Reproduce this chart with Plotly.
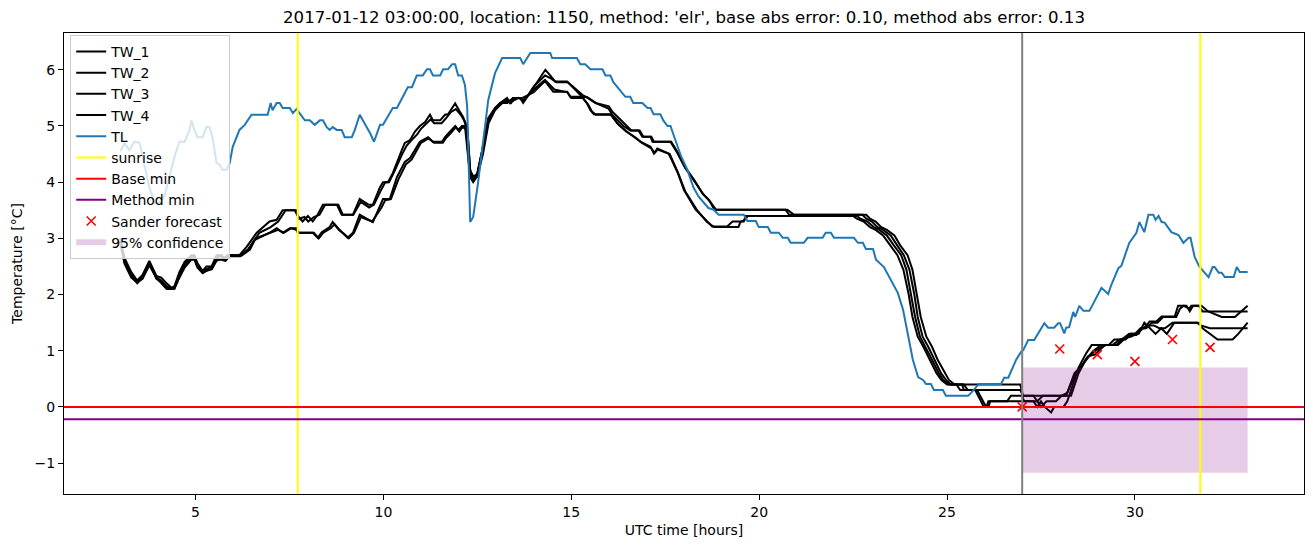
import plotly.graph_objects as go

# ---------------- data ----------------
tl_points = [(3.0, 4.55), (3.11, 4.69), (3.24, 4.57), (3.37, 4.72), (3.51, 4.70), (3.77, 3.91), (3.91, 3.63), (4.04, 3.63),
             (4.17, 3.74), (4.31, 4.09), (4.44, 4.45), (4.57, 4.72), (4.71, 4.72), (4.84, 4.93), (4.89, 5.1), (4.97, 4.93),
             (5.05, 4.8), (5.19, 4.8), (5.29, 4.98), (5.37, 4.98), (5.45, 4.8), (5.56, 4.34), (5.64, 4.31), (5.72, 4.22),
             (5.83, 4.22), (5.91, 4.34), (5.99, 4.63), (6.17, 4.93), (6.31, 5.02), (6.49, 5.2), (6.92, 5.2), (7.0, 5.41),
             (7.05, 5.28), (7.16, 5.41), (7.24, 5.41), (7.32, 5.32), (7.51, 5.32), (7.59, 5.23), (7.69, 5.3), (7.91, 5.1),
             (8.04, 5.1), (8.17, 5.02), (8.31, 5.1), (8.39, 5.1), (8.49, 4.98), (8.57, 4.93), (8.65, 4.98), (8.76, 4.93),
             (8.89, 4.93), (8.97, 4.8), (9.16, 4.8), (9.24, 4.93), (9.37, 5.2), (9.64, 4.88), (9.75, 4.72), (9.91, 5.02),
             (9.99, 5.02), (10.25, 5.32), (10.36, 5.32), (10.65, 5.69), (10.76, 5.69), (10.89, 5.9), (11.05, 5.9),
             (11.16, 6.01), (11.24, 6.01), (11.32, 5.9), (11.51, 5.9), (11.59, 6.01), (11.72, 6.01), (11.83, 6.1),
             (11.91, 6.1), (11.99, 5.9), (12.09, 5.9), (12.17, 5.73), (12.23, 5.34), (12.31, 3.29), (12.39, 3.38),
             (12.52, 3.99), (12.65, 4.75), (12.79, 5.46), (12.97, 5.94), (13.16, 6.21), (13.64, 6.21), (13.72, 6.1),
             (13.91, 6.3), (14.44, 6.3), (14.49, 6.21), (15.15, 6.21), (15.24, 6.1), (15.37, 6.1), (15.51, 6.01),
             (15.83, 6.01), (15.91, 5.9), (16.04, 5.9), (16.12, 5.78), (16.23, 5.69), (16.36, 5.6), (16.44, 5.52),
             (16.57, 5.52), (16.65, 5.41), (16.89, 5.41), (17.03, 5.32), (17.11, 5.32), (17.19, 5.21), (17.37, 5.21),
             (17.45, 5.1), (17.56, 5.0), (17.64, 5.0), (17.77, 4.75), (17.91, 4.48), (18.09, 4.22), (18.25, 3.91),
             (18.39, 3.74), (18.52, 3.63), (18.65, 3.54), (18.79, 3.51), (18.92, 3.42), (19.59, 3.42), (19.69, 3.31),
             (19.91, 3.31), (19.99, 3.2), (20.23, 3.2), (20.31, 3.1), (20.52, 3.1), (20.63, 3.01), (20.76, 3.01),
             (20.84, 2.92), (21.19, 2.92), (21.29, 3.01), (21.69, 3.01), (21.77, 3.1), (21.91, 3.1), (21.99, 3.01),
             (22.52, 3.01), (22.63, 2.92), (22.76, 2.92), (22.84, 2.81), (23.03, 2.81), (23.11, 2.62), (23.32, 2.49),
             (23.51, 2.26), (23.69, 2.03), (23.83, 1.73), (23.96, 1.25), (24.09, 0.84), (24.23, 0.53), (24.36, 0.48),
             (24.44, 0.41), (24.57, 0.41), (24.65, 0.3), (24.89, 0.3), (24.97, 0.2), (25.56, 0.2), (25.64, 0.25),
             (25.77, 0.34), (25.85, 0.41), (26.44, 0.41), (26.52, 0.52), (26.63, 0.52), (26.76, 0.72), (26.84, 0.84),
             (26.97, 0.98), (27.03, 1.01), (27.16, 1.19), (27.32, 1.19), (27.59, 1.49), (27.69, 1.41), (27.85, 1.41),
             (27.96, 1.49), (28.01, 1.49), (28.12, 1.31), (28.17, 1.41), (28.25, 1.42), (28.36, 1.69), (28.41, 1.6),
             (28.52, 1.8), (28.63, 1.71), (28.79, 1.71), (29.11, 2.12), (29.29, 2.01), (29.37, 2.17), (29.56, 2.47),
             (29.64, 2.51), (29.85, 2.92), (30.04, 3.1), (30.12, 3.29), (30.25, 3.11), (30.36, 3.42), (30.49, 3.42),
             (30.55, 3.33), (30.63, 3.4), (30.71, 3.29), (30.79, 3.28), (30.97, 3.11), (31.16, 3.06), (31.29, 2.92),
             (31.43, 3.01), (31.48, 3.01), (31.59, 2.67), (31.72, 2.49), (31.85, 2.4), (31.96, 2.31), (32.07, 2.49),
             (32.12, 2.49), (32.23, 2.39), (32.31, 2.39), (32.39, 2.31), (32.63, 2.31), (32.71, 2.49), (32.79, 2.4),
             (33.0, 2.4)]

tw1_points = [(3.0, 3.0), (3.11, 2.65), (3.29, 2.4), (3.45, 2.25), (3.59, 2.35), (3.77, 2.6), (3.96, 2.33), (4.09, 2.3),
              (4.23, 2.2), (4.36, 2.12), (4.44, 2.15), (4.57, 2.4), (4.71, 2.58), (4.89, 2.7), (4.97, 2.7), (5.05, 2.56),
              (5.19, 2.42), (5.29, 2.5), (5.43, 2.5), (5.56, 2.7), (5.69, 2.7), (5.77, 2.65), (5.85, 2.7), (6.17, 2.7),
              (6.36, 2.85), (6.63, 3.1), (6.97, 3.3), (7.16, 3.33), (7.32, 3.5), (7.64, 3.5), (7.72, 3.4), (7.85, 3.3),
              (7.99, 3.4), (8.12, 3.3), (8.25, 3.42), (8.39, 3.6), (8.76, 3.6), (8.89, 3.42), (9.19, 3.42), (9.37, 3.7),
              (9.6, 3.6), (9.72, 3.6), (9.91, 3.91), (9.99, 4.0), (10.12, 4.0), (10.25, 4.16), (10.49, 4.57), (10.57, 4.7),
              (10.71, 4.75), (10.84, 4.9), (10.97, 5.0), (11.11, 5.07), (11.24, 5.2), (11.32, 5.1), (11.51, 5.1),
              (11.64, 5.2), (11.72, 5.21), (11.91, 5.4), (12.04, 5.25), (12.12, 5.16), (12.23, 4.98), (12.31, 4.22),
              (12.39, 4.07), (12.49, 4.13), (12.63, 4.57), (12.79, 5.14), (12.97, 5.32), (13.11, 5.41), (13.29, 5.5),
              (13.37, 5.41), (13.45, 5.5), (13.64, 5.5), (13.72, 5.41), (13.99, 5.69), (14.31, 6.0), (14.44, 5.9),
              (14.57, 5.79), (14.89, 5.79), (15.06, 5.67), (15.29, 5.52), (15.42, 5.51), (15.64, 5.41), (15.99, 5.31),
              (16.09, 5.2), (16.22, 5.11), (16.39, 5.0), (16.57, 4.92), (16.79, 4.92), (16.89, 4.81), (17.11, 4.81),
              (17.16, 4.72), (17.64, 4.72), (17.83, 4.51), (18.01, 4.28), (18.27, 4.04), (18.49, 3.8), (18.67, 3.68),
              (18.81, 3.51), (20.75, 3.51), (20.93, 3.42), (22.85, 3.42), (22.95, 3.35), (23.1, 3.3), (23.25, 3.2),
              (23.4, 3.15), (23.6, 3.05), (23.75, 2.88), (23.95, 2.7), (24.08, 2.44), (24.2, 2.0), (24.3, 1.6),
              (24.45, 1.25), (24.6, 1.07), (24.75, 0.84), (24.95, 0.6), (25.05, 0.48), (25.2, 0.4), (26.95, 0.4),
              (27.02, 0.2), (28.0, 0.2), (28.17, 0.2), (28.39, 0.6), (28.57, 0.72), (28.75, 0.9), (28.93, 0.93),
              (29.2, 1.1), (29.55, 1.1), (29.69, 1.19), (29.82, 1.28), (30.04, 1.28), (30.17, 1.4), (30.26, 1.4),
              (30.39, 1.52), (30.57, 1.52), (30.71, 1.61), (31.06, 1.61), (31.15, 1.8), (31.37, 1.8), (31.46, 1.7),
              (31.55, 1.8), (31.77, 1.8), (31.95, 1.7), (32.31, 1.6), (32.66, 1.6), (32.84, 1.7), (33.0, 1.8)]

tw2_points = [(3.0, 2.95), (3.11, 2.6), (3.29, 2.35), (3.45, 2.22), (3.59, 2.32), (3.77, 2.58), (3.96, 2.3), (4.09, 2.25),
              (4.23, 2.15), (4.36, 2.1), (4.44, 2.12), (4.57, 2.35), (4.71, 2.55), (4.89, 2.68), (4.97, 2.68), (5.05, 2.52),
              (5.19, 2.4), (5.29, 2.45), (5.43, 2.5), (5.56, 2.65), (5.69, 2.7), (5.77, 2.6), (5.85, 2.7), (6.2, 2.7),
              (6.4, 2.8), (6.7, 3.1), (7.0, 3.2), (7.2, 3.3), (7.4, 3.5), (7.68, 3.5), (7.75, 3.35), (7.9, 3.38), (8.0, 3.3),
              (8.15, 3.38), (8.3, 3.42), (8.45, 3.6), (8.8, 3.6), (8.92, 3.42), (9.2, 3.42), (9.4, 3.65), (9.62, 3.55),
              (9.75, 3.6), (9.93, 3.85), (10.05, 4.0), (10.15, 4.0), (10.3, 4.2), (10.5, 4.5), (10.62, 4.65), (10.75, 4.75),
              (10.9, 4.85), (11.0, 4.95), (11.15, 5.05), (11.26, 5.12), (11.35, 5.05), (11.55, 5.05), (11.68, 5.15),
              (11.8, 5.25), (11.93, 5.3), (12.06, 5.2), (12.15, 5.1), (12.24, 4.9), (12.31, 4.2), (12.4, 4.1), (12.5, 4.15),
              (12.65, 4.6), (12.8, 5.1), (12.97, 5.3), (13.11, 5.41), (13.3, 5.45), (13.4, 5.41), (13.5, 5.5), (13.66, 5.5),
              (13.75, 5.45), (14.0, 5.7), (14.3, 5.9), (14.45, 5.85), (14.6, 5.78), (14.9, 5.78), (15.05, 5.7), (15.3, 5.55),
              (15.45, 5.5), (15.65, 5.41), (16.0, 5.35), (16.1, 5.25), (16.25, 5.15), (16.4, 5.05), (16.6, 4.92),
              (16.82, 4.92), (16.92, 4.81), (17.13, 4.81), (17.2, 4.72), (17.66, 4.72), (17.86, 4.5), (18.04, 4.25),
              (18.3, 4.0), (18.52, 3.78), (18.7, 3.65), (18.85, 3.51), (20.7, 3.51), (20.8, 3.42), (22.75, 3.42),
              (22.85, 3.35), (23.0, 3.3), (23.15, 3.2), (23.3, 3.15), (23.5, 3.05), (23.67, 2.88), (23.85, 2.7),
              (24.0, 2.44), (24.13, 2.0), (24.22, 1.6), (24.35, 1.25), (24.5, 1.07), (24.66, 0.84), (24.84, 0.6),
              (24.97, 0.48), (25.1, 0.4), (25.45, 0.4), (25.55, 0.3), (26.95, 0.3), (27.02, 0.2), (27.3, 0.2), (27.4, 0.1),
              (27.55, 0.2), (28.05, 0.2), (28.2, 0.25), (28.4, 0.55), (28.6, 0.75), (28.78, 0.9), (28.95, 1.0), (29.22, 1.1),
              (29.5, 1.1), (29.65, 1.2), (29.85, 1.3), (30.0, 1.3), (30.15, 1.4), (30.3, 1.4), (30.45, 1.5), (30.6, 1.5),
              (30.75, 1.6), (31.1, 1.6), (31.2, 1.75), (31.3, 1.8), (31.45, 1.75), (31.5, 1.8), (31.7, 1.8), (31.8, 1.7),
              (33.0, 1.7)]

tw3_points = [(3.0, 2.95), (3.11, 2.58), (3.29, 2.32), (3.45, 2.2), (3.59, 2.3), (3.77, 2.55), (3.96, 2.28), (4.09, 2.22),
              (4.23, 2.12), (4.36, 2.1), (4.44, 2.1), (4.57, 2.32), (4.71, 2.5), (4.89, 2.65), (4.97, 2.65), (5.05, 2.5),
              (5.19, 2.4), (5.29, 2.45), (5.43, 2.45), (5.56, 2.6), (5.69, 2.65), (5.8, 2.62), (5.9, 2.7), (6.2, 2.7),
              (6.4, 2.8), (6.57, 2.97), (6.97, 3.1), (7.16, 3.18), (7.32, 3.1), (7.51, 3.18), (7.69, 3.18), (7.72, 3.1),
              (8.12, 3.1), (8.25, 3.01), (8.36, 3.11), (8.57, 3.2), (8.65, 3.29), (8.79, 3.18), (8.92, 3.1), (9.05, 3.01),
              (9.19, 3.1), (9.37, 3.42), (9.72, 3.29), (9.91, 3.56), (9.99, 3.7), (10.17, 3.7), (10.36, 4.09), (10.57, 4.36),
              (10.71, 4.43), (10.89, 4.63), (10.97, 4.72), (11.19, 4.8), (11.32, 4.72), (11.56, 4.72), (11.64, 4.8),
              (11.77, 4.9), (11.91, 5.0), (11.99, 4.93), (12.09, 5.0), (12.17, 5.0), (12.31, 4.09), (12.39, 4.0),
              (12.49, 4.1), (12.63, 4.55), (12.79, 5.1), (12.97, 5.3), (13.11, 5.41), (13.3, 5.41), (13.45, 5.5),
              (13.7, 5.5), (14.0, 5.6), (14.3, 5.8), (14.52, 5.61), (14.89, 5.61), (14.97, 5.52), (15.29, 5.52),
              (15.42, 5.4), (15.51, 5.28), (15.6, 5.21), (16.04, 5.21), (16.22, 5.05), (16.44, 4.92), (16.66, 4.81),
              (16.84, 4.72), (17.11, 4.63), (17.2, 4.51), (17.29, 4.6), (17.59, 4.51), (17.82, 4.19), (18.0, 3.86),
              (18.31, 3.51), (18.57, 3.33), (18.75, 3.21), (19.15, 3.21), (19.29, 3.3), (19.59, 3.3), (19.64, 3.4),
              (22.6, 3.4), (22.7, 3.35), (22.88, 3.3), (23.05, 3.2), (23.2, 3.15), (23.4, 3.05), (23.58, 2.88),
              (23.78, 2.7), (23.92, 2.44), (24.05, 2.0), (24.15, 1.6), (24.28, 1.25), (24.43, 1.07), (24.6, 0.84),
              (24.78, 0.6), (24.9, 0.48), (25.05, 0.4), (25.4, 0.4), (25.45, 0.3), (25.8, 0.3), (26.04, 0.0), (26.1, 0.0),
              (26.15, 0.1), (26.6, 0.1), (26.7, 0.2), (27.0, 0.2), (27.05, 0.1), (27.3, 0.1), (27.4, 0.0), (27.5, 0.1),
              (27.6, 0.0), (27.77, -0.1), (27.85, 0.0), (28.1, 0.0), (28.2, 0.1), (28.35, 0.4), (28.5, 0.7), (28.7, 0.95),
              (28.85, 1.1), (29.3, 1.1), (29.45, 1.2), (29.75, 1.2), (29.9, 1.3), (30.1, 1.3), (30.25, 1.5), (30.4, 1.4),
              (30.55, 1.3), (30.7, 1.4), (30.85, 1.3), (31.05, 1.5), (31.7, 1.5), (31.8, 1.4), (32.0, 1.3), (32.2, 1.2),
              (32.6, 1.2), (32.75, 1.3), (33.0, 1.5)]

tw4_points = [(3.0, 2.9), (3.11, 2.55), (3.29, 2.3), (3.45, 2.22), (3.59, 2.28), (3.77, 2.52), (3.96, 2.3), (4.09, 2.2),
              (4.23, 2.1), (4.36, 2.1), (4.44, 2.12), (4.57, 2.3), (4.71, 2.48), (4.89, 2.62), (4.97, 2.62), (5.05, 2.48),
              (5.19, 2.38), (5.29, 2.42), (5.43, 2.45), (5.56, 2.62), (5.69, 2.62), (5.8, 2.6), (5.9, 2.68), (6.2, 2.68),
              (6.45, 2.8), (6.6, 3.0), (7.0, 3.1), (7.2, 3.15), (7.35, 3.1), (7.55, 3.18), (7.7, 3.15), (7.75, 3.1),
              (8.15, 3.1), (8.28, 3.0), (8.4, 3.1), (8.6, 3.18), (8.7, 3.25), (8.82, 3.15), (8.95, 3.08), (9.08, 3.0),
              (9.22, 3.1), (9.4, 3.38), (9.7, 3.3), (9.95, 3.55), (10.05, 3.68), (10.2, 3.7), (10.4, 4.05), (10.6, 4.32),
              (10.75, 4.4), (10.92, 4.6), (11.0, 4.7), (11.2, 4.78), (11.35, 4.7), (11.58, 4.7), (11.66, 4.78),
              (11.8, 4.88), (11.93, 4.98), (12.02, 4.9), (12.1, 4.98), (12.2, 4.95), (12.3, 4.15), (12.38, 4.05),
              (12.5, 4.1), (12.65, 4.5), (12.8, 5.05), (12.97, 5.28), (13.15, 5.4), (13.32, 5.45), (13.45, 5.45),
              (13.6, 5.5), (13.72, 5.45), (14.0, 5.65), (14.3, 5.82), (14.55, 5.65), (14.9, 5.6), (15.0, 5.5), (15.3, 5.5),
              (15.45, 5.38), (15.55, 5.26), (15.65, 5.2), (16.06, 5.2), (16.25, 5.03), (16.47, 4.9), (16.7, 4.8),
              (16.88, 4.7), (17.13, 4.6), (17.22, 4.52), (17.3, 4.58), (17.62, 4.5), (17.85, 4.15), (18.03, 3.84),
              (18.35, 3.5), (18.6, 3.3), (18.8, 3.2), (19.45, 3.2), (19.5, 3.29), (19.62, 3.33), (19.7, 3.4), (22.5, 3.4),
              (22.6, 3.35), (22.78, 3.3), (22.95, 3.2), (23.1, 3.15), (23.3, 3.05), (23.48, 2.88), (23.68, 2.7),
              (23.84, 2.44), (23.98, 2.0), (24.08, 1.6), (24.22, 1.25), (24.37, 1.07), (24.54, 0.84), (24.72, 0.6),
              (24.85, 0.48), (25.0, 0.4), (25.25, 0.4), (25.35, 0.3), (25.75, 0.3), (25.98, 0.0), (26.05, 0.0),
              (26.1, 0.1), (27.0, 0.1), (27.4, 0.1), (27.5, 0.0), (27.65, 0.1), (27.9, 0.1), (28.05, 0.2), (28.3, 0.2),
              (28.5, 0.6), (28.7, 0.85), (28.9, 1.0), (29.1, 1.1), (29.4, 1.1), (29.6, 1.2), (29.9, 1.25), (30.05, 1.3),
              (30.3, 1.45), (30.5, 1.45), (30.65, 1.4), (30.8, 1.4), (31.0, 1.5), (31.65, 1.5), (31.75, 1.45),
              (32.0, 1.4), (33.0, 1.4)]

sander_hours = [27, 28, 29, 30, 31, 32]
sander_values = [0.0, 1.03, 0.93, 0.81, 1.2, 1.06]

sunrise_hours = [7.72, 31.74]
base_min = 0.0
method_min = -0.22
forecast_start = 27.0
conf_hours = [27.0, 33.0]
conf_low = -1.17
conf_high = 0.70

title_text = "2017-01-12 03:00:00, location: 1150, method: 'elr', base abs error: 0.10, method abs error: 0.13"

# ---------------- figure ----------------
FONT = "DejaVu Sans"
FS = 14
LW = 2
fig = go.Figure()

tw_series = [("TW_1", tw1_points), ("TW_2", tw2_points), ("TW_3", tw3_points), ("TW_4", tw4_points)]
rank = 1
for name, pts in tw_series:
    fig.add_trace(go.Scatter(x=[p[0] for p in pts], y=[p[1] for p in pts], mode="lines", name=name,
                             line=dict(color="black", width=LW), legendrank=rank))
    rank += 1

fig.add_trace(go.Scatter(x=[p[0] for p in tl_points], y=[p[1] for p in tl_points], mode="lines", name="TL",
                         line=dict(color="#1f77b4", width=LW), legendrank=5))

# reference lines (drawn as shapes spanning the axes)
shapes = []
for h in sunrise_hours:
    shapes.append(dict(type="line", xref="x", yref="paper", x0=h, x1=h, y0=0, y1=1,
                       line=dict(color="yellow", width=LW)))
shapes.append(dict(type="line", xref="paper", yref="y", x0=0, x1=1, y0=base_min, y1=base_min,
                   line=dict(color="red", width=LW)))
shapes.append(dict(type="line", xref="paper", yref="y", x0=0, x1=1, y0=method_min, y1=method_min,
                   line=dict(color="purple", width=LW)))
shapes.append(dict(type="line", xref="x", yref="paper", x0=forecast_start, x1=forecast_start, y0=0, y1=1,
                   line=dict(color="gray", width=LW)))

# legend entries for the shape lines
fig.add_trace(go.Scatter(x=[None], y=[None], mode="lines", name="sunrise",
                         line=dict(color="yellow", width=LW), legendrank=6))
fig.add_trace(go.Scatter(x=[None], y=[None], mode="lines", name="Base min",
                         line=dict(color="red", width=LW), legendrank=7))
fig.add_trace(go.Scatter(x=[None], y=[None], mode="lines", name="Method min",
                         line=dict(color="purple", width=LW), legendrank=8))

fig.add_trace(go.Scatter(x=sander_hours, y=sander_values, mode="markers", name="Sander forecast",
                         marker=dict(symbol="x-thin", size=9, color="red", line=dict(color="red", width=1.6)),
                         legendrank=9))

fig.add_trace(go.Scatter(x=[conf_hours[0], conf_hours[1], conf_hours[1], conf_hours[0], conf_hours[0]],
                         y=[conf_low, conf_low, conf_high, conf_high, conf_low],
                         mode="none", fill="toself", fillcolor="rgba(128,0,128,0.2)",
                         name="95% confidence", legendrank=10))

axis_common = dict(showline=True, linecolor="black", linewidth=1, mirror=True, ticks="outside", ticklen=5,
                   tickwidth=1, tickcolor="black", showgrid=False, zeroline=False,
                   tickfont=dict(family=FONT, size=FS, color="black"))

fig.update_layout(
    width=1313, height=547,
    margin=dict(l=64, r=9, t=33, b=53),
    plot_bgcolor="white", paper_bgcolor="white",
    font=dict(family=FONT, size=FS, color="black"),
    title=dict(text=title_text, x=0.5, xref="paper", xanchor="center", y=1 - 17 / 547, yref="container",
               yanchor="middle", font=dict(family=FONT, size=16.6, color="black")),
    xaxis=dict(range=[1.5, 34.5], tickvals=[5, 10, 15, 20, 25, 30],
               title=dict(text="UTC time [hours]", standoff=6, font=dict(family=FONT, size=FS)), **axis_common),
    yaxis=dict(range=[-1.55, 6.655], tickvals=[-1, 0, 1, 2, 3, 4, 5, 6],
               title=dict(text="Temperature [°C]", standoff=8, font=dict(family=FONT, size=FS)), **axis_common),
    shapes=shapes,
    showlegend=True,
    legend=dict(x=0.005, y=0.996, xanchor="left", yanchor="top", bgcolor="rgba(255,255,255,0.8)",
                bordercolor="#cccccc", borderwidth=1, font=dict(family=FONT, size=FS, color="black"),
                tracegroupgap=0, itemwidth=30),
)

fig.write_html("out.html")
